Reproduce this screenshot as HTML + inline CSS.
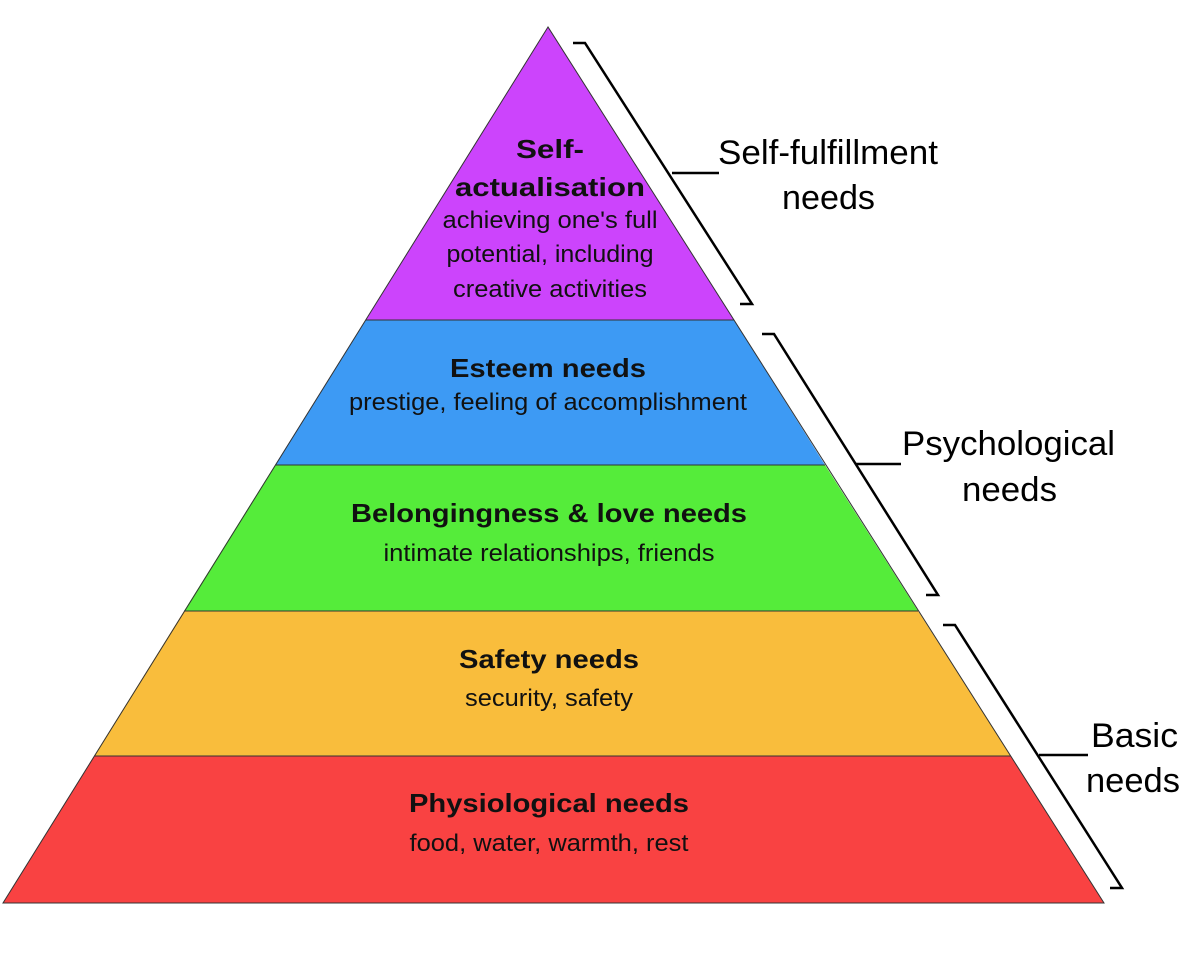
<!DOCTYPE html>
<html><head><style>body{margin:0;background:#fff}</style></head><body>
<svg width="1192" height="952" xmlns="http://www.w3.org/2000/svg" font-family="Liberation Sans, Arial, sans-serif">
<rect width="1192" height="952" fill="#fff"/>
<polygon points="548,27 366,320 734,320" fill="#cc44fc"/>
<polygon points="366,320 734,320 825,465 275,465" fill="#3d9af4"/>
<polygon points="275,465 825,465 918,611 184,611" fill="#55ec3a"/>
<polygon points="184,611 918,611 1011,756 94,756" fill="#f9bd3c"/>
<polygon points="94,756 1011,756 1104,903 3,903" fill="#f94242"/>
<g stroke="#333" stroke-width="1" fill="none">
<polygon points="548,27 3,903 1104,903"/>
<line x1="366" y1="320" x2="734" y2="320"/><line x1="275" y1="465" x2="825" y2="465"/>
<line x1="184" y1="611" x2="918" y2="611"/><line x1="94" y1="756" x2="1011" y2="756"/>
</g>
<g stroke="#000" stroke-width="2.5" fill="none">
<polyline points="573,43 585,43 752,304 740,304"/><line x1="672" y1="173" x2="719" y2="173"/>
<polyline points="762,334 774,334 938,595 926,595"/><line x1="856" y1="464" x2="901" y2="464"/>
<polyline points="943,625 955,625 1122,888 1110,888"/><line x1="1039" y1="755" x2="1088" y2="755"/>
</g>
<g font-size="34" fill="#000">
<text x="718" y="164" textLength="220" lengthAdjust="spacingAndGlyphs">Self-fulfillment</text>
<text x="782" y="209" textLength="93" lengthAdjust="spacingAndGlyphs">needs</text>
<text x="902" y="455" textLength="213" lengthAdjust="spacingAndGlyphs">Psychological</text>
<text x="962" y="501" textLength="95" lengthAdjust="spacingAndGlyphs">needs</text>
<text x="1091" y="747" textLength="87" lengthAdjust="spacingAndGlyphs">Basic</text>
<text x="1086" y="792" textLength="94" lengthAdjust="spacingAndGlyphs">needs</text>
</g>
<g text-anchor="middle" fill="#111">
<g font-size="26" font-weight="bold">
<text x="550" y="158" textLength="68" lengthAdjust="spacingAndGlyphs">Self-</text>
<text x="550" y="196" textLength="190" lengthAdjust="spacingAndGlyphs">actualisation</text>
<text x="548" y="377" textLength="196" lengthAdjust="spacingAndGlyphs">Esteem needs</text>
<text x="549" y="522" textLength="396" lengthAdjust="spacingAndGlyphs">Belongingness &amp; love needs</text>
<text x="549" y="668" textLength="180" lengthAdjust="spacingAndGlyphs">Safety needs</text>
<text x="549" y="812" textLength="280" lengthAdjust="spacingAndGlyphs">Physiological needs</text>
</g>
<g font-size="24">
<text x="550" y="228" textLength="215" lengthAdjust="spacingAndGlyphs">achieving one's full</text>
<text x="550" y="262" textLength="207" lengthAdjust="spacingAndGlyphs">potential, including</text>
<text x="550" y="297" textLength="194" lengthAdjust="spacingAndGlyphs">creative activities</text>
<text x="548" y="410" textLength="398" lengthAdjust="spacingAndGlyphs">prestige, feeling of accomplishment</text>
<text x="549" y="561" textLength="331" lengthAdjust="spacingAndGlyphs">intimate relationships, friends</text>
<text x="549" y="706" textLength="168" lengthAdjust="spacingAndGlyphs">security, safety</text>
<text x="549" y="851" textLength="279" lengthAdjust="spacingAndGlyphs">food, water, warmth, rest</text>
</g></g>
</svg>
</body></html>
